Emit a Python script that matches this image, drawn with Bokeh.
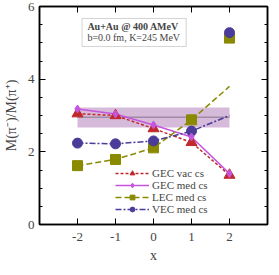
from bokeh.plotting import figure
from bokeh.models import (FixedTicker, LinearAxis, Range1d, BoxAnnotation, Label,
                          Legend, LegendItem, CustomJSTickFormatter)
from bokeh.embed import file_html
from bokeh.resources import INLINE

# ---- data ----
xs = [-2, -1, 0, 1, 2]
gec_vac = [3.05, 3.00, 2.64, 2.26, 1.36]
gec_med = [3.18, 3.04, 2.74, 2.41, 1.40]
lec_line = [1.62, 1.79, 2.11, 2.88, 3.80]
lec_pts = [1.62, 1.79, 2.11, 2.88, 5.13]
vec_line = [2.24, 2.22, 2.30, 2.57, 3.00]
vec_pts = [2.24, 2.22, 2.30, 2.57, 5.28]
band_x = [-2, 2]
band_lo = [2.67, 2.67]
band_hi = [3.22, 3.22]
band_mid = [2.95, 2.95]
x_ticks = [-2, -1, 0, 1, 2]
x_tick_labels = ["-2", "-1", "0", "1", "2"]
y_ticks = [0, 2, 4, 6]
y_minor = [0.5 * i for i in range(13)]
labels = ["GEC vac cs", "GEC med cs", "LEC med cs", "VEC med cs"]

FONT = "Liberation Serif"
RED = "#c0282a"
VIO = "#c655de"
OLI = "#8a8a00"
NAV = "#4a3c98"

p = figure(frame_width=228, frame_height=218, output_backend="svg",
           toolbar_location=None, x_range=Range1d(-3, 3), y_range=Range1d(0, 6),
           min_border_left=33, min_border_right=2, min_border_top=6, min_border_bottom=35)
p.background_fill_color = "white"
p.border_fill_color = "white"
p.outline_line_color = "black"
p.outline_line_width = 1.5
p.xgrid.visible = False
p.ygrid.visible = False

xt = FixedTicker(ticks=x_ticks, minor_ticks=[])
yt = FixedTicker(ticks=y_ticks, minor_ticks=y_minor)

for ax in (p.xaxis[0], p.yaxis[0]):
    ax.major_tick_in = 6
    ax.major_tick_out = 0
    ax.minor_tick_in = 3
    ax.minor_tick_out = 0
    ax.axis_line_width = 1.5
    ax.major_tick_line_width = 1
    ax.major_label_text_font = FONT
    ax.major_label_text_font_size = "13px"
    ax.axis_label_text_font = FONT
    ax.axis_label_text_font_size = "14px"
    ax.axis_label_text_font_style = "normal"
p.xaxis[0].ticker = xt
p.yaxis[0].ticker = yt
p.xaxis[0].major_label_overrides = dict(zip(x_ticks, x_tick_labels))
p.xaxis[0].axis_label = "x"
p.yaxis[0].axis_label = "M(π⁻)/M(π⁺)"
p.xaxis[0].major_label_standoff = 8
p.xaxis[0].axis_label_standoff = 4
p.yaxis[0].major_label_standoff = 5
p.yaxis[0].axis_label_standoff = 6

for loc, tk in (("right", yt), ("above", xt)):
    ax = LinearAxis(ticker=tk, formatter=CustomJSTickFormatter(code="return ''"))
    ax.major_tick_in = 6
    ax.major_tick_out = 0
    ax.minor_tick_in = 3
    ax.minor_tick_out = 0
    ax.major_label_text_font_size = "1px"
    ax.major_label_standoff = 0
    ax.axis_line_width = 1.5
    p.add_layout(ax, loc)

# band
p.varea(x=band_x, y1=band_lo, y2=band_hi, fill_color="#d2b2d6", fill_alpha=0.9)
p.line(band_x, band_mid, line_color="#a08ca4", line_width=1.5)

# info box
p.add_layout(BoxAnnotation(left=-1.88, right=0.86, bottom=4.90, top=5.67,
                           fill_color="white", fill_alpha=1.0,
                           line_color="#707070", line_width=1))
p.add_layout(Label(x=-1.74, y=5.44, text="Au+Au @ 400 AMeV", text_font=FONT,
                   text_font_size="10px", text_font_style="bold",
                   text_baseline="middle"))
p.add_layout(Label(x=-1.74, y=5.14, text="b=0.0 fm, K=245 MeV", text_font=FONT,
                   text_font_size="10px", text_baseline="middle"))

# series
l1 = p.line(xs, gec_vac, line_color=RED, line_width=1.5, line_dash="3 2")
l2 = p.line(xs, gec_med, line_color=VIO, line_width=1.5)
l3 = p.line(xs, lec_line, line_color=OLI, line_width=1.5, line_dash="6 3")
l4 = p.line(xs, vec_line, line_color=NAV, line_width=1.5, line_dash="6 2 2 2")
m3 = p.scatter(xs, lec_pts, marker="square", size=10, fill_color=OLI, line_color=OLI)
m4 = p.scatter(xs, vec_pts, marker="circle", size=10, fill_color=NAV, line_color=NAV)
m1 = p.scatter(xs, gec_vac, marker="triangle", size=11, fill_color=RED, line_color=RED)
m2 = p.scatter(xs, gec_med, marker="diamond", size=8, fill_color=VIO, line_color=VIO)

legend = Legend(items=[LegendItem(label=labels[0], renderers=[l1, m1]),
                       LegendItem(label=labels[1], renderers=[l2, m2]),
                       LegendItem(label=labels[2], renderers=[l3, m3]),
                       LegendItem(label=labels[3], renderers=[l4, m4])],
                location=(76, 9))
legend.background_fill_alpha = 0
legend.border_line_alpha = 0
legend.padding = 0
legend.margin = 0
legend.spacing = 0
legend.glyph_width = 34
legend.glyph_height = 12
legend.label_height = 12
legend.label_standoff = 3
legend.label_text_font = FONT
legend.label_text_font_size = "11px"
p.add_layout(legend, "center")

open("out.html", "w").write(file_html(p, INLINE))
